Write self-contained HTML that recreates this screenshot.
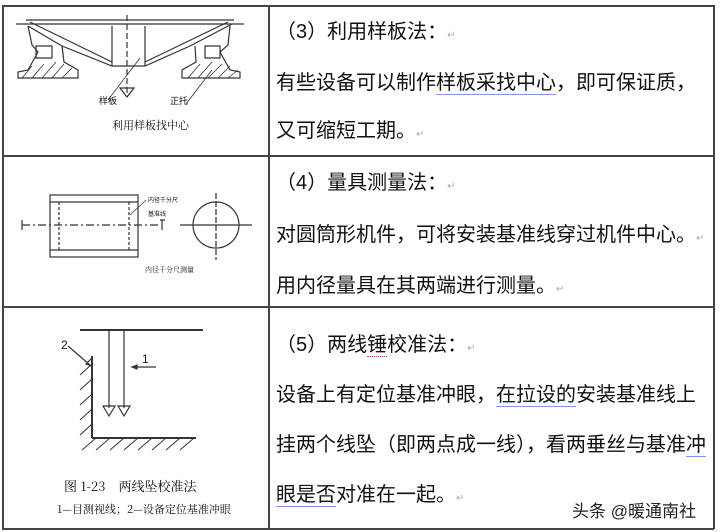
<!DOCTYPE html>
<html><head><meta charset="utf-8"><style>
html,body{margin:0;padding:0;background:#fff;}
body{width:720px;height:532px;position:relative;overflow:hidden;font-family:"Liberation Sans","Noto Sans CJK SC",sans-serif;color:#111;}
.t{position:absolute;left:276px;font-size:20px;line-height:24px;white-space:nowrap;}
.u{border-bottom:1.5px solid #7a9be0;}
.r{color:#aaa;font-size:10px;}
.l{position:absolute;background:#444;}
</style></head><body>
<div class="l" style="left:2px;top:5px;width:712px;height:1.5px"></div>
<div class="l" style="left:2px;top:155px;width:712px;height:1.5px"></div>
<div class="l" style="left:2px;top:306px;width:712px;height:1.5px"></div>
<div class="l" style="left:2px;top:528px;width:712px;height:1.5px"></div>
<div class="l" style="left:2px;top:5px;width:1.5px;height:524px"></div>
<div class="l" style="left:268px;top:5px;width:1.5px;height:524px"></div>
<div class="l" style="left:713px;top:5px;width:1.5px;height:524px"></div>

<div class="t" style="top:20px">（3）利用样板法：<span class="r">↵</span></div>
<div class="t" style="top:71px">有些设备可以制作<span class="u">样板采找中心</span>，即可保证质，</div>
<div class="t" style="top:119px">又可缩短工期。<span class="r">↵</span></div>

<div class="t" style="top:171px">（4）量具测量法：<span class="r">↵</span></div>
<div class="t" style="top:223px">对圆筒形机件，可将安装基准线穿过机件中心。<span class="r">↵</span></div>
<div class="t" style="top:274px">用内径量具在其两端进行测量。<span class="r">↵</span></div>

<div class="t" style="top:333px">（5）两线<span style="border-bottom:1.5px dotted #d33">锤</span>校准法：<span class="r">↵</span></div>
<div class="t" style="top:383px">设备上有定位基准冲眼，<span class="u">在拉设的</span>安装基准线上</div>
<div class="t" style="top:433px">挂两个线坠（即两点成一线），看两垂丝与基准<span class="u">冲</span></div>
<div class="t" style="top:483px"><span class="u">眼是否</span>对准在一起。<span class="r">↵</span></div>
<div style="position:absolute;left:572px;top:497px;font-size:17px;color:#222;font-family:'Liberation Sans','Noto Sans CJK SC',sans-serif">头条 @暖通南社</div>

<svg style="position:absolute;left:0;top:0" width="270" height="532" fill="none" stroke="#333" stroke-width="1.2">
<line x1="16" y1="24" x2="244" y2="24"/>
<line x1="26" y1="20" x2="234" y2="20"/>
<line x1="127" y1="15" x2="127" y2="95" stroke-dasharray="6,3"/>
<path d="M120 88 L127 97 L134 88 Z"/>
<path d="M28 26 L62 46 L112 66 L145 66 L190 46 L232 24"/>
<path d="M30 22 L112 62 M228 22 L145 62"/>
<path d="M112 26 L112 66 M145 26 L145 66"/>
<path d="M28 26 L32 45 L38 52 L28 70 L18 72 L18 78 L78 78 L78 70 L64 62 L62 46"/>
<path d="M230 26 L228 45 L220 52 L230 70 L240 72 L240 78 L182 78 L182 70 L196 62 L195 46"/>
<path d="M36 46 L52 46 L52 58 L36 58 Z M205 46 L220 46 L220 58 L205 58 Z"/>
<g stroke-width="0.8"><path d="M22 78 L32 66 M32 78 L44 64 M42 78 L56 62 M52 78 L64 64 M62 78 L72 68 M188 78 L200 64 M198 78 L212 62 M208 78 L222 64 M218 78 L230 66 M228 78 L238 70"/></g>
<line x1="108" y1="100" x2="140" y2="58" stroke-width="0.8"/>
<line x1="186" y1="104" x2="212" y2="70" stroke-width="0.8"/>
<rect x="50" y="195" width="88" height="62"/>
<line x1="50" y1="202" x2="138" y2="202"/>
<line x1="50" y1="250" x2="138" y2="250"/>
<line x1="22" y1="225" x2="160" y2="225" stroke-dasharray="8,3,2,3"/>
<path d="M22 220 L22 230 M160 220 L165 220 M162 220 L162 230"/>
<line x1="59" y1="202" x2="59" y2="250" stroke-dasharray="3,2"/>
<line x1="129" y1="202" x2="129" y2="250" stroke-dasharray="3,2"/>
<circle cx="216" cy="225" r="23"/>
<line x1="180" y1="225" x2="252" y2="225"/>
<line x1="216" y1="193" x2="216" y2="260" stroke-dasharray="6,2"/>
<line x1="130" y1="215" x2="146" y2="200" stroke-width="0.7"/>
<line x1="80" y1="330" x2="203" y2="330" stroke-width="2"/>
<line x1="109" y1="331" x2="109" y2="408"/>
<line x1="124" y1="331" x2="124" y2="408"/>
<path d="M103 406 L109 416 L115 406 Z M118 406 L124 416 L130 406 Z"/>
<line x1="92" y1="356" x2="92" y2="438" stroke-width="2"/>
<line x1="92" y1="438" x2="196" y2="438" stroke-width="2"/>
<path d="M86 364 L92 358 L92 366 Z"/>
<line x1="68" y1="346" x2="90" y2="365"/>
<line x1="132" y1="367" x2="156" y2="367"/>
<path d="M132 367 L137 365 L137 369 Z" fill="#333"/>
<g stroke-width="1"><path d="M80 375 L92 364 M80 390 L92 379 M80 405 L92 394 M80 420 L92 409 M80 435 L92 424 M82 450 L96 438 M96 450 L110 438 M110 450 L124 438 M124 450 L138 438 M138 450 L152 438 M152 450 L166 438 M166 450 L180 438 M180 450 L194 438"/></g>
</svg>
<div style="position:absolute;left:99px;top:94px;font-size:9px">样板</div>
<div style="position:absolute;left:170px;top:94px;font-size:9px">正托</div>
<div style="position:absolute;left:112px;top:117px;font-size:11px;font-family:'Noto Serif CJK SC',serif">利用样板找中心</div>
<div style="position:absolute;left:145px;top:265px;font-size:7px;font-family:'Noto Serif CJK SC',serif">内径千分尺测量</div>
<div style="position:absolute;left:148px;top:195px;font-size:6px">内径千分尺</div>
<div style="position:absolute;left:148px;top:209px;font-size:6px">基准线</div>
<div style="position:absolute;left:61px;top:338px;font-size:12px">2</div>
<div style="position:absolute;left:142px;top:352px;font-size:12px">1</div>
<div style="position:absolute;left:64px;top:476px;font-size:13px;font-family:'Noto Serif CJK SC',serif">图 1-23　两线坠校准法</div>
<div style="position:absolute;left:57px;top:501px;font-size:11px;font-family:'Noto Serif CJK SC',serif">1—目测视线；2—设备定位基准冲眼</div>
</body></html>
